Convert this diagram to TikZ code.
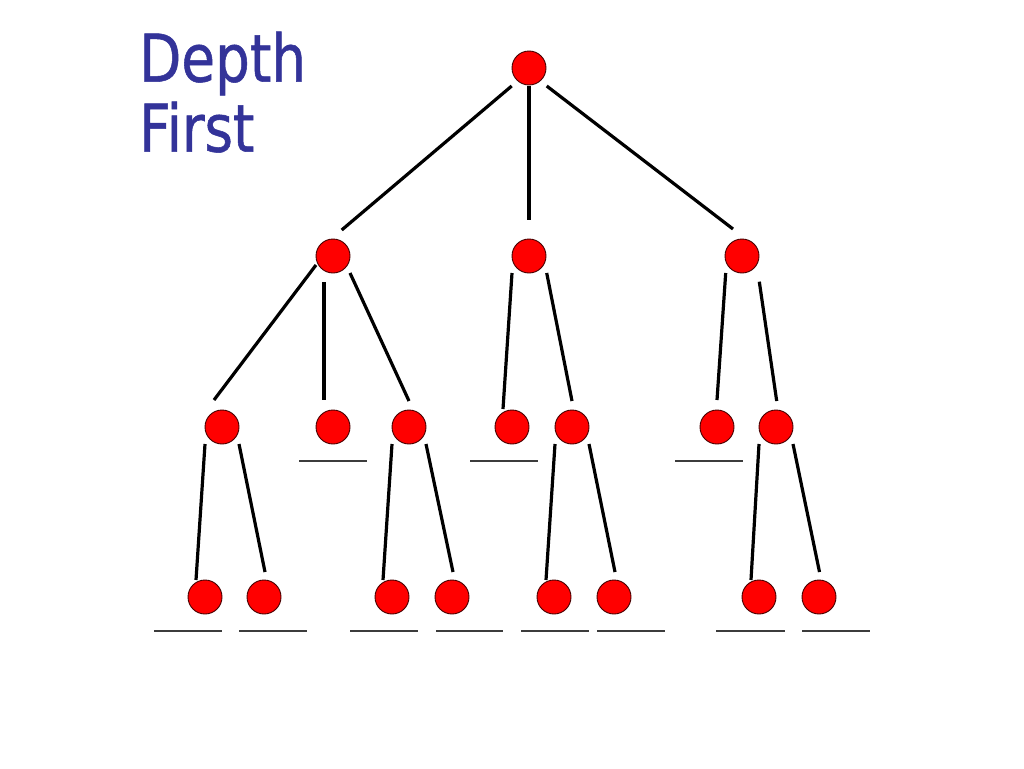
\documentclass[tikz,border=0pt]{standalone}
\usepackage{fontspec}
\setmainfont[FakeStretch=0.83,FakeBold=0.8]{DejaVu Sans}
\usetikzlibrary{calc}
\definecolor{titleblue}{RGB}{51,51,153}
\definecolor{nodered}{RGB}{255,0,0}
\definecolor{rimcol}{RGB}{70,0,0}
\definecolor{ulcol}{RGB}{60,60,60}
\tikzset{
  vert/.style={circle,fill=nodered,draw=rimcol,line width=0.9pt,minimum size=34pt,inner sep=0pt},
  edge/.style={line width=3.2pt,black},
  uline/.style={line width=1.3pt,ulcol},
  titletext/.style={anchor=base west,inner sep=0pt,text=titleblue,font=\fontsize{66pt}{70pt}\selectfont}
}
\begin{document}
\begin{tikzpicture}[x=1pt,y=-1pt]
\useasboundingbox[fill=white] (0,0) rectangle (1024,768);
\node[titletext] (t1) at (139,81.7) {Depth};
\node[titletext] (t2) at (139,151.7) {First};
% nodes
\node[vert] (r) at (529,68) {};
\node[vert] (a) at (333,256) {};
\node[vert] (b) at (529,256) {};
\node[vert] (c) at (742,256) {};
\node[vert] (a1) at (222,427) {};
\node[vert] (a2) at (333,427) {};
\node[vert] (a3) at (409,427) {};
\node[vert] (b1) at (512,427) {};
\node[vert] (b2) at (572,427) {};
\node[vert] (c1) at (717,427) {};
\node[vert] (c2) at (776,427) {};
\node[vert] (a1a) at (205,597) {};
\node[vert] (a1b) at (264,597) {};
\node[vert] (a3a) at (392,597) {};
\node[vert] (a3b) at (452,597) {};
\node[vert] (b2a) at (554,597) {};
\node[vert] (b2b) at (614,597) {};
\node[vert] (c2a) at (759,597) {};
\node[vert] (c2b) at (819,597) {};
% edges
\draw[edge] ($(r)+(-17.3,18)$) -- ($(a)+(8.7,-26)$);
\draw[edge] ($(r)+(0,18)$) -- ($(b)+(0,-36)$);
\draw[edge] ($(r)+(17.7,18)$) -- ($(c)+(-9,-27)$);
\draw[edge] ($(a)+(-17,9)$) -- ($(a1)+(-8,-27)$);
\draw[edge] ($(a)+(-9,26)$) -- ($(a2)+(-9,-27)$);
\draw[edge] ($(a)+(17,17)$) -- ($(a3)+(0,-26)$);
\draw[edge] ($(b)+(-17,17)$) -- ($(b1)+(-9,-18)$);
\draw[edge] ($(b)+(17.7,17)$) -- ($(b2)+(0,-26)$);
\draw[edge] ($(c)+(-16.3,17)$) -- ($(c1)+(0,-27)$);
\draw[edge] ($(c)+(17.3,25.7)$) -- ($(c2)+(0.7,-26)$);
\draw[edge] ($(a1)+(-17,17)$) -- ($(a1a)+(-9,-17)$);
\draw[edge] ($(a1)+(17,17)$) -- ($(a1b)+(1,-25)$);
\draw[edge] ($(a3)+(-17,17)$) -- ($(a3a)+(-9,-17)$);
\draw[edge] ($(a3)+(17,17)$) -- ($(a3b)+(1,-25)$);
\draw[edge] ($(b2)+(-17,17)$) -- ($(b2a)+(-8,-17)$);
\draw[edge] ($(b2)+(17,17)$) -- ($(b2b)+(1,-25)$);
\draw[edge] ($(c2)+(-17,17)$) -- ($(c2a)+(-8,-17)$);
\draw[edge] ($(c2)+(17,17)$) -- ($(c2b)+(0.5,-25)$);
% underlines
\draw[uline] ($(a2)+(-34,34)$) -- ($(a2)+(34,34)$);
\draw[uline] ($(b1)+(-42,34)$) -- ($(b1)+(26,34)$);
\draw[uline] ($(c1)+(-42,34)$) -- ($(c1)+(26,34)$);
\draw[uline] ($(a1a)+(-51,34)$) -- ($(a1a)+(17,34)$);
\draw[uline] ($(a1b)+(-25,34)$) -- ($(a1b)+(43,34)$);
\draw[uline] ($(a3a)+(-42,34)$) -- ($(a3a)+(26,34)$);
\draw[uline] ($(a3b)+(-16,34)$) -- ($(a3b)+(51,34)$);
\draw[uline] ($(b2a)+(-33,34)$) -- ($(b2a)+(35,34)$);
\draw[uline] ($(b2b)+(-17,34)$) -- ($(b2b)+(51,34)$);
\draw[uline] ($(c2a)+(-43,34)$) -- ($(c2a)+(26,34)$);
\draw[uline] ($(c2b)+(-17,34)$) -- ($(c2b)+(51,34)$);
\end{tikzpicture}
\end{document}
